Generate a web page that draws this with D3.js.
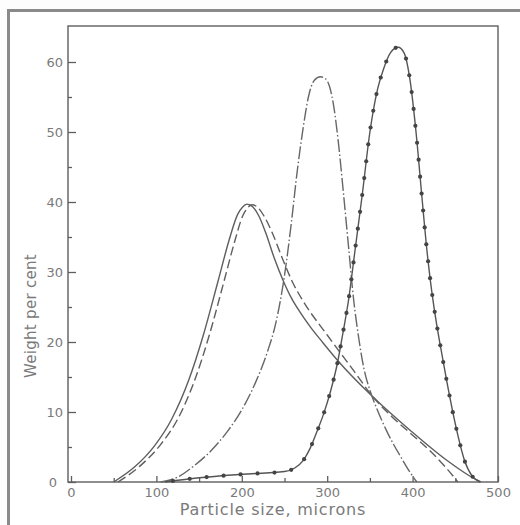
<!DOCTYPE html>
<html>
<head>
<meta charset="utf-8">
<script src="https://cdn.jsdelivr.net/npm/d3@7"></script>
<style>
  html, body { margin: 0; padding: 0; background: #fff; }
  svg { display: block; }
</style>
</head>
<body>
<svg id="chart" width="520" height="525"></svg>
<script>
// Axis ticks
const xTickValues = [0, 100, 200, 300, 400, 500];
const xMinorTicks = [50, 150, 250, 350, 450];
const yTickValues = [0, 10, 20, 30, 40, 50, 60];
const yMinorTicks = [5, 15, 25, 35, 45, 55];

// Size distributions: particle size (microns) and weight per cent
const solidSize   = [50, 75, 98, 118, 138, 155, 172, 185, 195, 201, 206, 213, 220, 228, 238, 248, 258, 268, 280, 295, 312, 354, 397, 440, 465, 480];
const solidWeight = [0, 2.2, 5.2, 9.0, 14.6, 21.0, 28.6, 34.5, 38.2, 39.3, 39.7, 39.3, 38.0, 35.6, 32.0, 28.9, 26.3, 24.3, 22.2, 19.9, 17.4, 12.1, 7.4, 3.1, 1.0, 0];

const dashedSize   = [55, 80, 104, 125, 145, 162, 179, 192, 201, 207, 212, 218, 226, 236, 248, 260, 272, 300, 331, 354, 376, 399, 420, 438, 453];
const dashedWeight = [0, 2.2, 5.2, 9.0, 14.6, 21.0, 28.6, 34.5, 38.0, 39.2, 39.6, 39.3, 38.0, 35.5, 31.8, 28.4, 25.8, 21.0, 15.9, 12.1, 9.3, 6.8, 4.5, 2.2, 0];

const dashDotSize   = [105, 125, 145, 165, 183, 200, 216, 230, 240, 250, 258, 265, 272, 278, 285, 292, 298, 303, 308, 313, 319, 325, 331, 337, 343, 350, 358, 370, 388, 398, 405];
const dashDotWeight = [0, 0.7, 2.4, 4.6, 7.2, 10.3, 14.2, 18.6, 22.8, 29.5, 37, 44.5, 50.7, 55, 57.4, 57.9, 57.6, 56.4, 53.4, 48.6, 41.3, 33.6, 26, 20.5, 16.2, 13.1, 10.5, 7.2, 3.2, 1.2, 0];

const dottedSize   = [110, 150, 200, 250, 262, 272, 280, 288, 296, 304, 312, 318, 325, 333, 341, 350, 358, 366, 374, 383, 390, 397, 404, 411, 416, 421, 426, 432, 440, 452, 461, 470, 479];
const dottedWeight = [0, 0.6, 1.1, 1.5, 2.0, 3.1, 4.8, 7.2, 9.8, 13, 17, 21, 26, 33.5, 41, 50, 55.6, 59, 61.3, 62.1, 61.3, 57.4, 50, 40.6, 34, 28.6, 24.2, 19.8, 14.4, 7.2, 3.0, 0.8, 0];

const svg = d3.select("#chart");
const ink = "#5e5e5e";
const textInk = "#7a7a7a";
const font = "'DejaVu Sans', sans-serif";

const frame = { left: 68, right: 498, top: 26, bottom: 482 };
const x = d3.scaleLinear().domain([0, 500]).range([71, 498]);
const y = d3.scaleLinear().domain([0, 65]).range([482, 27]);

// page background and outer border
svg.append("rect").attr("width", 520).attr("height", 525).attr("fill", "#fdfdfd");
svg.append("rect")
  .attr("x", 8.5).attr("y", 10.5).attr("width", 600).attr("height", 600)
  .attr("fill", "#fff").attr("stroke", "#8a8a8a").attr("stroke-width", 3);

// plot frame
svg.append("rect")
  .attr("x", frame.left).attr("y", frame.top)
  .attr("width", frame.right - frame.left).attr("height", frame.bottom - frame.top)
  .attr("fill", "none").attr("stroke", ink).attr("stroke-width", 1.4);

// y axis: inward ticks
const yAxis = svg.append("g").attr("transform", `translate(${frame.left},0)`)
  .call(d3.axisLeft(y).tickValues(yTickValues).tickSize(-8).tickPadding(5).tickFormat(d3.format("d")));
const yMinor = svg.append("g").attr("transform", `translate(${frame.left},0)`)
  .call(d3.axisLeft(y).tickValues(yMinorTicks).tickSize(-4).tickFormat(""));

// x axis: inward ticks
const xAxis = svg.append("g").attr("transform", `translate(0,${frame.bottom})`)
  .call(d3.axisBottom(x).tickValues(xTickValues).tickSize(-6).tickPadding(6).tickFormat(d3.format("d")));
const xMinor = svg.append("g").attr("transform", `translate(0,${frame.bottom})`)
  .call(d3.axisBottom(x).tickValues(xMinorTicks).tickSize(-4).tickFormat(""));

[yAxis, yMinor, xAxis, xMinor].forEach(g => {
  g.select(".domain").remove();
  g.selectAll(".tick line").attr("stroke", ink).attr("stroke-width", 1.3);
  g.selectAll(".tick text")
    .attr("fill", textInk).attr("font-family", font).attr("font-size", 13);
});
// the origin's y label sits a little further out
yAxis.selectAll(".tick text").filter(d => d === 0).attr("x", -11);

// axis titles
svg.append("text")
  .attr("transform", "translate(36,316) rotate(-90)")
  .attr("text-anchor", "middle")
  .attr("fill", textInk).attr("font-family", font).attr("font-size", 15)
  .attr("letter-spacing", 0.3)
  .text("Weight per cent");
svg.append("text")
  .attr("x", 273).attr("y", 515)
  .attr("text-anchor", "middle")
  .attr("fill", textInk).attr("font-family", font).attr("font-size", 16)
  .attr("letter-spacing", 0.8)
  .text("Particle size, microns");

// distribution curves
const line = d3.line()
  .x(d => x(d[0]))
  .y(d => y(d[1]))
  .curve(d3.curveMonotoneX);

const pairs = (s, w) => s.map((v, i) => [v, w[i]]);

const curves = [
  { data: pairs(solidSize, solidWeight), dash: null, color: ink },
  { data: pairs(dashedSize, dashedWeight), dash: "9,4", color: ink },
  { data: pairs(dashDotSize, dashDotWeight), dash: "13,2.5,1.5,2.5", color: "#666" },
  { data: pairs(dottedSize, dottedWeight), dash: null, color: "#555", markers: true }
];

curves.forEach(c => {
  const path = svg.append("path")
    .datum(c.data)
    .attr("d", line)
    .attr("fill", "none")
    .attr("stroke", c.color)
    .attr("stroke-width", 1.4)
    .attr("stroke-dasharray", c.dash);
  if (c.markers) {
    // dots spaced evenly along the drawn curve
    const node = path.node();
    const total = node.getTotalLength();
    const step = 17;
    const pts = d3.range(8, total, step).map(l => node.getPointAtLength(l));
    svg.append("g").selectAll("circle")
      .data(pts)
      .join("circle")
      .attr("cx", p => p.x).attr("cy", p => p.y)
      .attr("r", 2.1)
      .attr("fill", "#444");
  }
});
</script>
</body>
</html>
